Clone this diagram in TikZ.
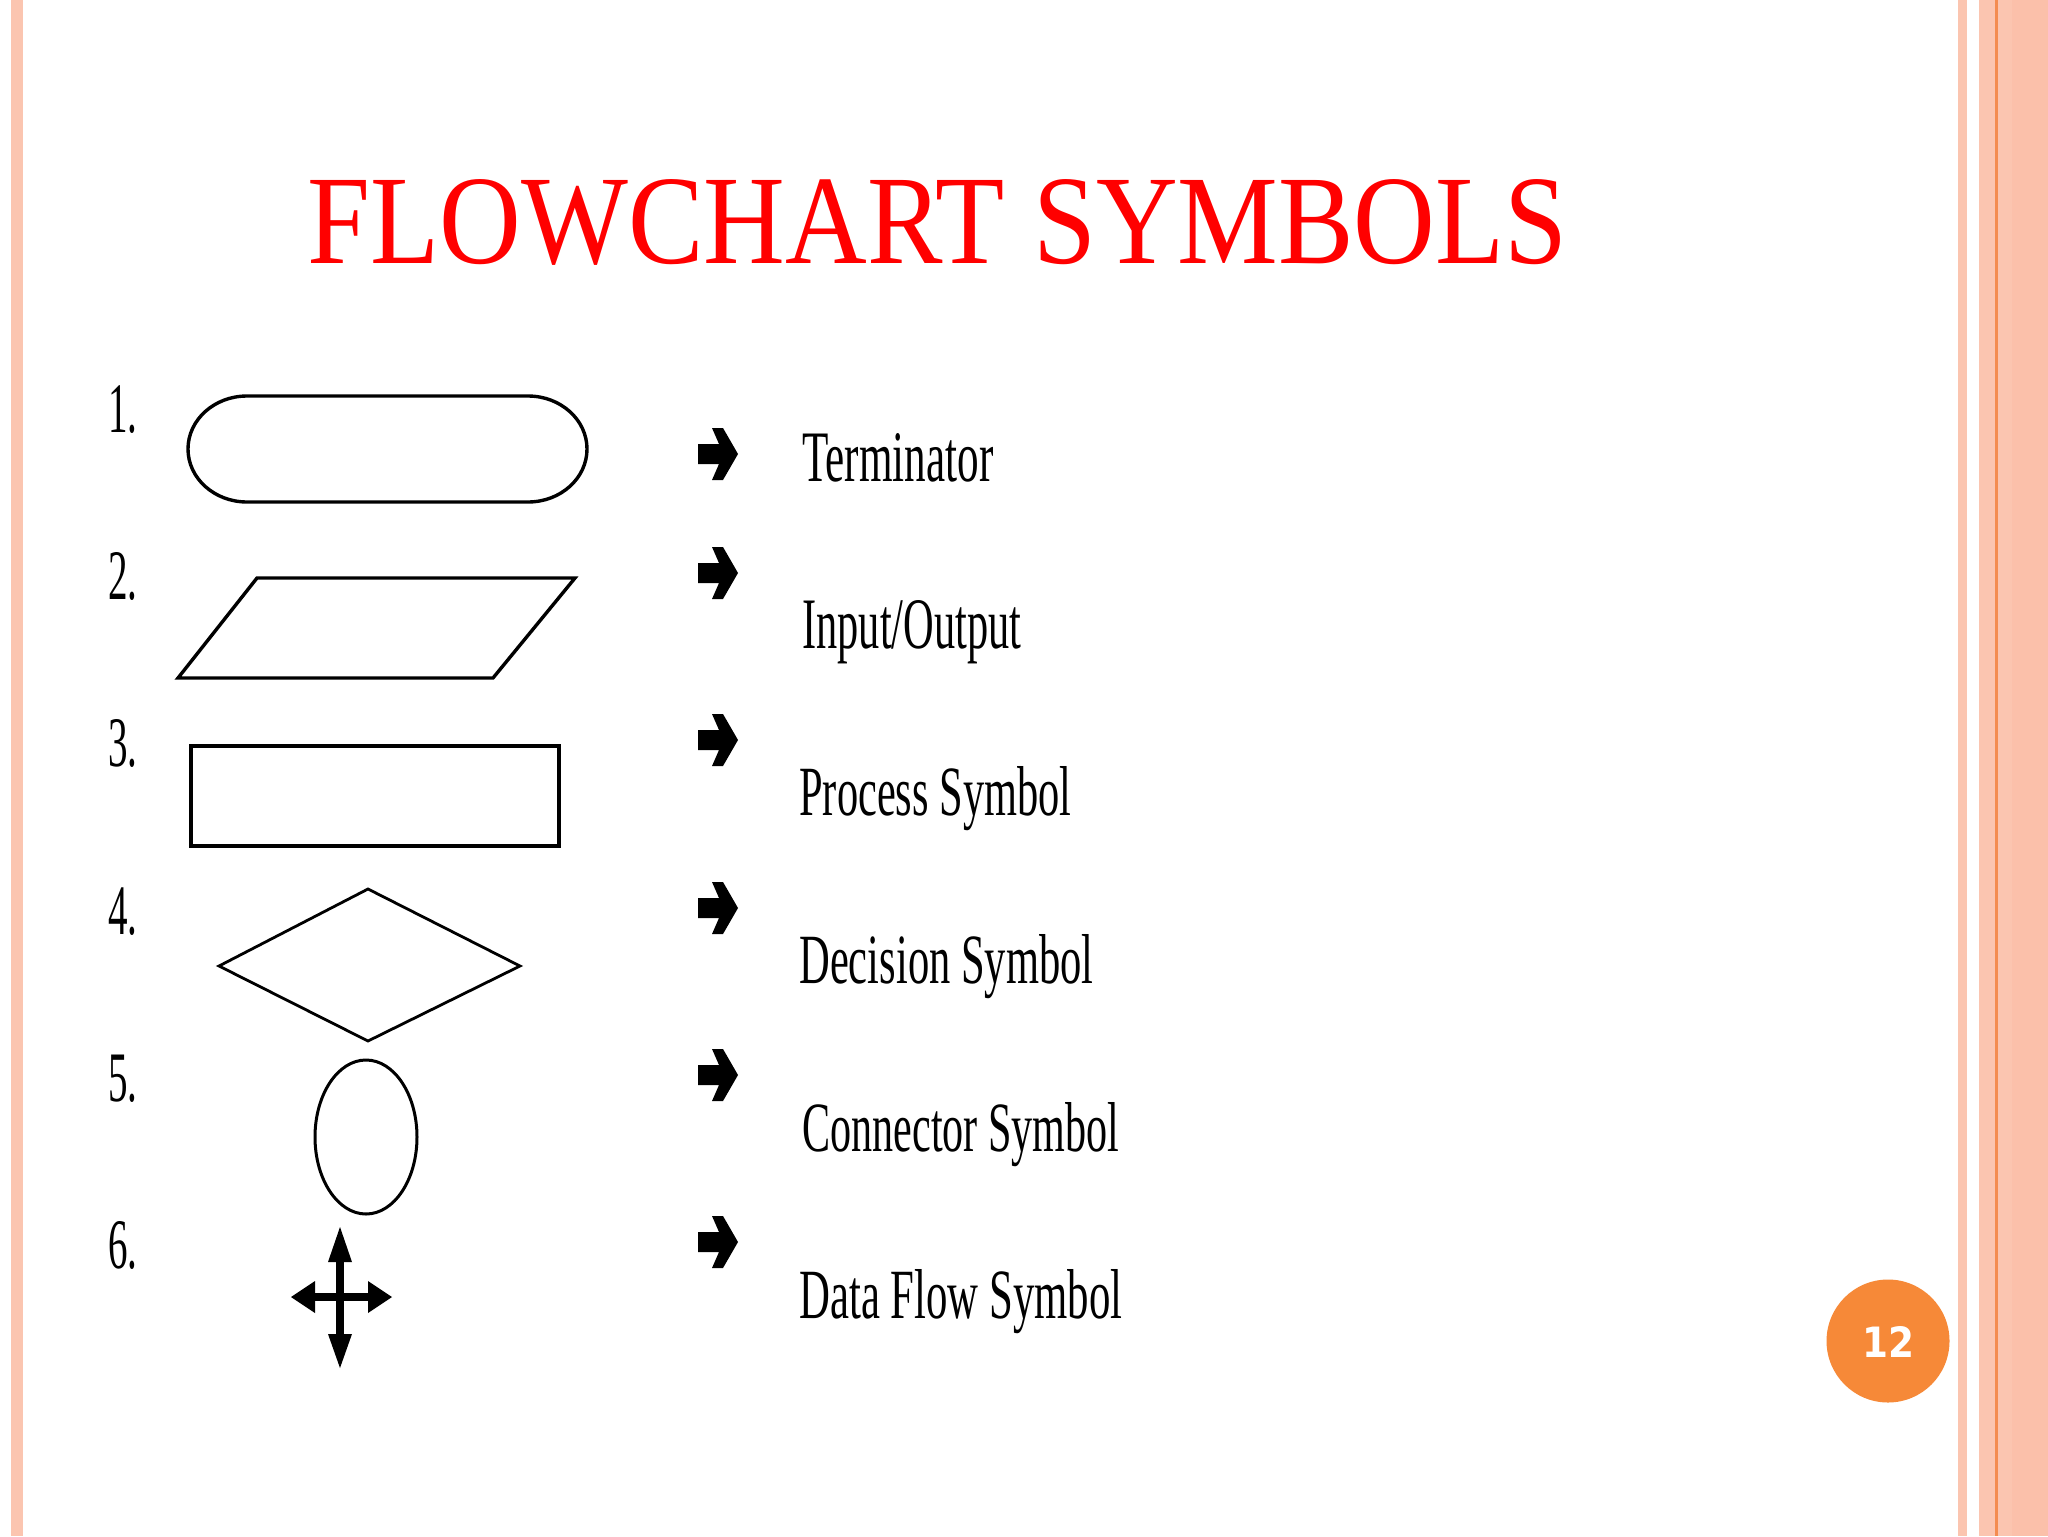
\documentclass[tikz,border=0pt]{standalone}
\usepackage{fontspec}
\setmainfont{Liberation Serif}
\newfontfamily\pagefont{DejaVu Sans}
\usepackage{graphicx}
\definecolor{salmon}{RGB}{251,197,176}
\definecolor{salmontwo}{RGB}{251,192,170}
\definecolor{orangeline}{RGB}{244,140,80}
\definecolor{pageorange}{RGB}{246,137,56}
\definecolor{titlered}{RGB}{255,0,0}
\tikzset{
  shapeline/.style={draw=black, line width=1.7pt, line join=miter},
  lbl/.style={inner sep=0pt, anchor=base west, text=black},
  numlbl/.style={inner sep=0pt, anchor=base west, text=black, font=\fontsize{35.5pt}{36pt}\selectfont},
  arrowglyph/.style={fill=black, draw=none},
  flowline/.style={draw=black, line width=4pt},
  flowhead/.style={fill=black, draw=none}
}
\newcommand{\arrowmark}[2]{%
  \fill[arrowglyph] (#1-20,#2+10) -- (#1+1,#2+10) -- (#1-6,#2+26) -- (#1+5,#2+26) -- (#1+20,#2) -- (#1+5,#2-26) -- (#1-6,#2-26) -- (#1+1,#2-10) -- (#1-20,#2-10) -- cycle;}
\begin{document}
\begin{tikzpicture}[x=0.5pt,y=-0.5pt]
\useasboundingbox (0,0) rectangle (2048,1536);
\fill[white] (0,0) rectangle (2048,1536);
% borders
\fill[salmon] (11,0) rectangle (23,1536);
\fill[salmon] (1958,0) rectangle (1967,1536);
\fill[salmon] (1979,0) rectangle (2048,1536);
\fill[salmontwo] (2012,0) rectangle (2048,1536);
\fill[orangeline] (1995,0) rectangle (1997.5,1536);

% title
\node[inner sep=0pt, anchor=base west, text=titlered] (title) at (307,263)
  {\resizebox{630pt}{42pt}{FLOWCHART SYMBOLS}};

% numbers
\node[numlbl] (n1) at (108,432) {\scalebox{0.55}[1]{1.}};
\node[numlbl] (n2) at (108,599) {\scalebox{0.55}[1]{2.}};
\node[numlbl] (n3) at (108,766) {\scalebox{0.55}[1]{3.}};
\node[numlbl] (n4) at (108,934) {\scalebox{0.55}[1]{4.}};
\node[numlbl] (n5) at (108,1101) {\scalebox{0.55}[1]{5.}};
\node[numlbl] (n6) at (108,1268) {\scalebox{0.55}[1]{6.}};

% 1 terminator
\draw[shapeline] (247,396) -- (528,396)
  .. controls (560.6,396) and (587,419.7) .. (587,449)
  .. controls (587,478.3) and (560.6,502) .. (528,502)
  -- (247,502)
  .. controls (214.4,502) and (188,478.3) .. (188,449)
  .. controls (188,419.7) and (214.4,396) .. (247,396) -- cycle;
% 2 parallelogram
\draw[shapeline] (257,578) -- (575,578) -- (493,678) -- (178,678) -- cycle;
% 3 rectangle
\draw[shapeline] (191,746) rectangle (559,846);
% 4 diamond
\draw[shapeline, line width=1.4pt] (219,966) -- (368,889) -- (520,966) -- (368,1041) -- cycle;
% 5 connector
\draw[shapeline, line width=1.5pt] (366,1137) ellipse [x radius=25.5pt, y radius=38.5pt];
% 6 data flow
\coordinate (dfc) at (340,1297);
\draw[flowline] (340,1250) -- (340,1345);
\draw[flowline] (310,1297) -- (372,1297);
\fill[flowhead] (340,1227) -- (352,1262) -- (328,1262) -- cycle;
\fill[flowhead] (340,1368) -- (352,1334) -- (328,1334) -- cycle;
\fill[flowhead] (291,1297) -- (315,1281) -- (315,1313) -- cycle;
\fill[flowhead] (392,1297) -- (368,1281) -- (368,1313) -- cycle;

% arrows
\arrowmark{718}{454}
\arrowmark{718}{573}
\arrowmark{718}{740}
\arrowmark{718}{908}
\arrowmark{718}{1075}
\arrowmark{718}{1242}

% labels
\node[lbl] (l1) at (802,481) {\resizebox{95.5pt}{24pt}{Terminator}};
\node[lbl] (l2) at (802,648) {\resizebox{109.5pt}{24pt}{Input/Output}};
\node[lbl] (l3) at (799,815) {\resizebox{136pt}{24.5pt}{Process Symbol}};
\node[lbl] (l4) at (799,983) {\resizebox{147pt}{24.5pt}{Decision Symbol}};
\node[lbl] (l5) at (802,1151) {\resizebox{158.5pt}{24.5pt}{Connector Symbol}};
\node[lbl] (l6) at (799,1318) {\resizebox{161.5pt}{24.5pt}{Data Flow Symbol}};

% page number
\fill[pageorange] (1888,1341) circle [radius=30.75pt];
\node[inner sep=0pt, text=white] (pg) at (1888,1342)
  {\pagefont\bfseries\resizebox{26pt}{15.5pt}{12}};
\end{tikzpicture}
\end{document}
